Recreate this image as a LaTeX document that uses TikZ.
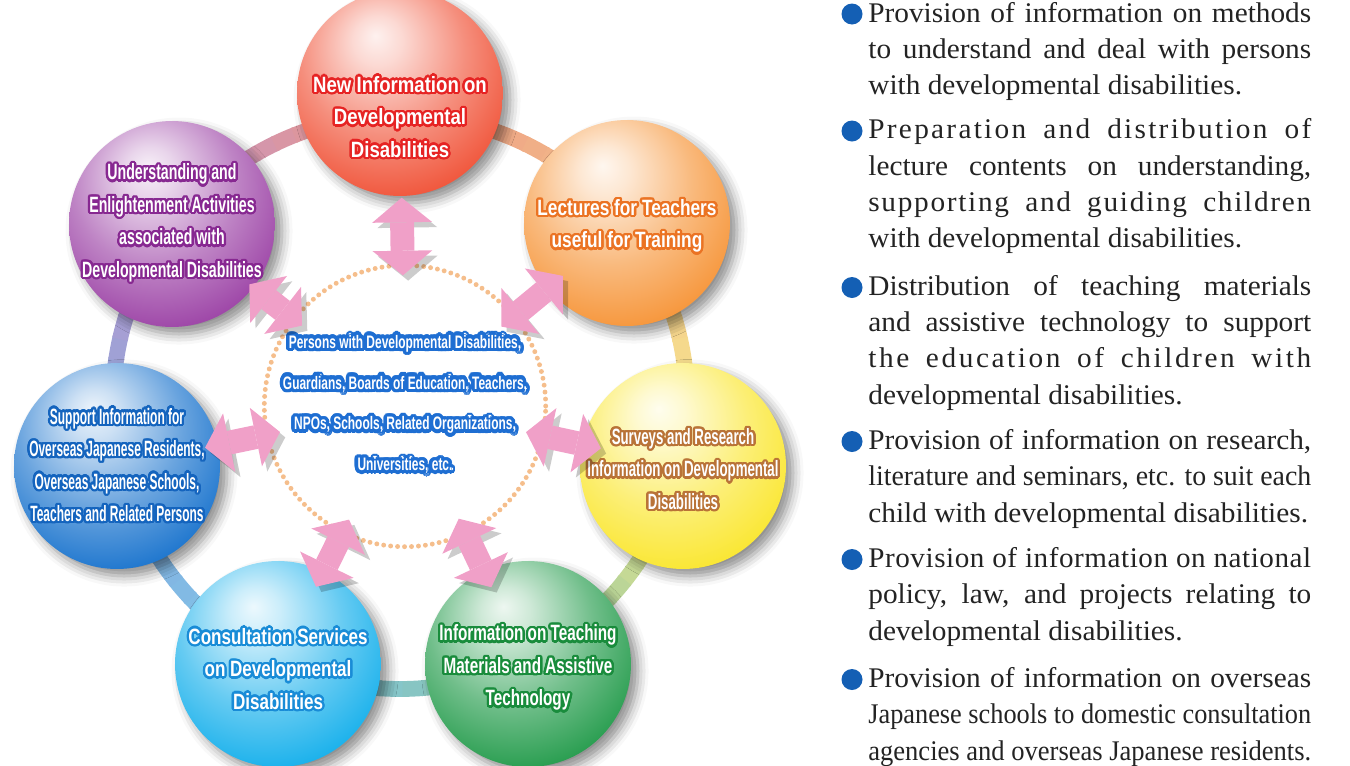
\documentclass[tikz,border=0pt]{standalone}
\usepackage{fontspec}
\usepackage{contour}
\usetikzlibrary{arrows.meta,shadows.blur}
\setmainfont{Liberation Serif}
\newfontfamily\ballfont{Liberation Sans}
\newfontfamily\listfont[FakeStretch=1.03]{Liberation Serif}

\definecolor{ddred}{RGB}{240, 82, 55}
\definecolor{ddorange}{RGB}{246, 148, 55}
\definecolor{ddyellow}{RGB}{250, 230, 45}
\definecolor{ddgreen}{RGB}{35, 155, 75}
\definecolor{ddcyan}{RGB}{20, 175, 235}
\definecolor{ddblue}{RGB}{25, 115, 205}
\definecolor{ddpurple}{RGB}{155, 65, 165}
\definecolor{halored}{RGB}{230, 35, 35}
\definecolor{haloorange}{RGB}{235, 115, 35}
\definecolor{haloyellow}{RGB}{185, 115, 55}
\definecolor{halogreen}{RGB}{25, 140, 60}
\definecolor{halocyan}{RGB}{25, 140, 215}
\definecolor{haloblue}{RGB}{20, 100, 190}
\definecolor{halopurple}{RGB}{135, 40, 145}
\definecolor{ringred}{RGB}{235, 150, 130}
\definecolor{ringorange}{RGB}{245, 195, 140}
\definecolor{ringyellow}{RGB}{245, 235, 140}
\definecolor{ringgreen}{RGB}{140, 195, 160}
\definecolor{ringcyan}{RGB}{130, 200, 235}
\definecolor{ringblue}{RGB}{130, 170, 220}
\definecolor{ringpurple}{RGB}{195, 150, 205}
\definecolor{hubglow}{RGB}{30, 110, 210}
\definecolor{dotpeach}{RGB}{245, 190, 140}
\definecolor{arrowpink}{RGB}{240, 160, 200}
\definecolor{bulletblue}{RGB}{20, 95, 180}
\definecolor{listgray}{RGB}{35, 35, 35}

\contourlength{1.3pt}
\contournumber{24}
\colorlet{ballbase}{ddred}
\colorlet{haloc}{halored}
\newcommand{\hl}[1]{\contour{haloc}{#1}}
\newcommand{\glow}[1]{{\contourlength{2pt}\contour{hubglow}{#1}}}
\newlength{\itemw}
\setlength{\itemw}{8.86cm}
% full-width line: optional letter spacing, squeezed if too long
\newcommand{\jl}[2][0]{%
  \setbox0\hbox{\addfontfeature{LetterSpace=#1}#2}%
  \ifdim\wd0>\itemw
    \pgfmathsetmacro{\jr}{\itemw/\wd0}\scalebox{\jr}[1]{\box0}%
  \else
    \makebox[\itemw][s]{\addfontfeature{LetterSpace=#1}#2}%
  \fi}

\pgfdeclareradialshading[ballbase]{glossy}{\pgfpoint{-6bp}{14bp}}{%
  color(0bp)=(ballbase!8!white); color(6bp)=(ballbase!22!white);
  color(20bp)=(ballbase!65!white); color(34bp)=(ballbase);
  color(66bp)=(ballbase!90!black)}

\tikzset{
  ball/.style={circle, minimum size=4.12cm, inner sep=0pt, outer sep=0pt,
    shading=glossy, /utils/exec={\colorlet{ballbase}{#1}},
    blur shadow={shadow xshift=4pt, shadow yshift=-4pt, shadow blur radius=6pt, shadow opacity=45}},
  cap/.style 2 args={text=white, align=center, inner sep=0pt,
    /utils/exec={\colorlet{haloc}{#1}},
    font={\fontsize{12.6}{18.5}\ballfont\bfseries\addfontfeature{FakeStretch=#2}}},
  hub/.style={circle, minimum size=5.48cm, inner sep=0pt, outer sep=0pt,
    draw=dotpeach, line width=2.8pt, dash pattern=on 0pt off 3.97pt, line cap=round,
    text=white, align=center,
    font={\fontsize{10.3}{23.2}\ballfont\bfseries\addfontfeature{FakeStretch=0.66}}},
  ringband/.style={line width=9pt},
  pinkarrow/.style={draw=arrowpink, line width=13.6pt,
    {Triangle[width=34pt,length=14pt,line width=0pt]}-{Triangle[width=34pt,length=14pt,line width=0pt]},
    preaction={draw=black, opacity=0.2, transform canvas={shift={(3pt,-3pt)}}}},
  bullet/.style={circle, fill=bulletblue, minimum size=0.42cm, inner sep=0pt},
  item/.style={anchor=base west, align=left, inner sep=0pt, text=listgray,
    font={\fontsize{16.2}{20.6}\listfont}}
}

\begin{document}
\begin{tikzpicture}[x=0.02cm, y=-0.02cm]
\useasboundingbox (0,0) rectangle (1350,765);
\coordinate (ringc) at (400,402);

% Coloured ring behind the balls
\foreach \sa/\ea/\ca/\cb in {-90/-38.3/ringred/ringorange, -38.3/12.7/ringorange/ringyellow,
    12.7/64/ringyellow/ringgreen, 64/115/ringgreen/ringcyan, 115/167.3/ringcyan/ringblue,
    167.3/218/ringblue/ringpurple, 218/270/ringpurple/ringred} {
  \foreach \k in {0,...,11} {
    \pgfmathsetmacro{\aa}{\sa+(\ea-\sa)*\k/12}
    \pgfmathsetmacro{\bb}{\sa+(\ea-\sa)*(\k+1.1)/12}
    \pgfmathtruncatemacro{\mix}{100-100*(\k+0.5)/12}
    \draw[ringband, draw=\ca!\mix!\cb] (ringc) ++(\aa:287) arc[start angle=\aa, end angle=\bb, radius=287];
  }
}

% Balls
\node[ball=ddred] (newinfo) at (400,93) {};
\node[ball=ddorange] (lectures) at (627,223) {};
\node[ball=ddyellow] (surveys) at (683,466) {};
\node[ball=ddgreen] (teaching) at (528,664) {};
\node[ball=ddcyan] (consult) at (278,664) {};
\node[ball=ddblue] (overseas) at (117,466) {};
\node[ball=ddpurple] (enlight) at (172,224) {};

% Ball captions
\node[cap={halored}{0.84}] (newinfo-cap) at ([yshift=-14.2pt]newinfo.center)
  {\hl{New Information on}\\ \hl{Developmental}\\ \hl{Disabilities}};
\node[cap={haloorange}{0.78}] (lectures-cap) at ([yshift=-2.3pt]lectures.center)
  {\hl{Lectures for Teachers}\\ \hl{useful for Training}};
\node[cap={haloyellow}{0.60}] (surveys-cap) at ([yshift=-2.3pt]surveys.center)
  {\hl{Surveys and Research}\\ \hl{Information on Developmental}\\ \hl{Disabilities}};
\node[cap={halogreen}{0.69}] (teaching-cap) at ([yshift=-2.8pt]teaching.center)
  {\hl{Information on Teaching}\\ \hl{Materials and Assistive}\\ \hl{Technology}};
\node[cap={halocyan}{0.77}] (consult-cap) at ([yshift=-3.4pt]consult.center)
  {\hl{Consultation Services}\\ \hl{on Developmental}\\ \hl{Disabilities}};
\node[cap={haloblue}{0.54}] (overseas-cap) at (overseas.center)
  {\hl{Support Information for}\\ \hl{Overseas Japanese Residents,}\\ \hl{Overseas Japanese Schools,}\\ \hl{Teachers and Related Persons}};
\node[cap={halopurple}{0.64}] (enlight-cap) at (enlight.center)
  {\hl{Understanding and}\\ \hl{Enlightenment Activities}\\ \hl{associated with}\\ \hl{Developmental Disabilities}};

% Centre
\node[hub] (hub) at (405,406)
  {\glow{Persons with Developmental Disabilities,}\\ \glow{Guardians, Boards of Education, Teachers,}\\
   \glow{NPOs, Schools, Related Organizations,}\\ \glow{Universities, etc.}};

% Double arrows
\draw[pinkarrow, shorten <=1pt, shorten >=-5.7pt] (newinfo) -- (hub);
\draw[pinkarrow, shorten <=-11.3pt, shorten >=-9pt] (lectures) -- (hub);
\draw[pinkarrow, shorten <=-10.8pt, shorten >=-9.6pt] (surveys) -- (hub);
\draw[pinkarrow, shorten <=-10.2pt, shorten >=-9pt] (teaching) -- (hub);
\draw[pinkarrow, shorten <=-9.6pt, shorten >=-8pt] (consult) -- (hub);
\draw[pinkarrow, shorten <=-7.4pt, shorten >=-7.4pt] (overseas) -- (hub);
\draw[pinkarrow, shorten <=-2.8pt, shorten >=-5.7pt] (enlight) -- (hub);

% Bullet list (nodes sit on the baseline of their last line)
\node[bullet] (b1) at (852,14) {};
\node[item] (item1) at (868,94.5)
  {\jl{Provision of information on methods}\\ \jl{to understand and deal with persons}\\ with developmental disabilities.};
\node[bullet] (b2) at (852,131) {};
\node[item] (item2) at (868,247.5)
  {\jl[8]{Preparation and distribution of}\\ \jl{lecture contents on understanding,}\\ \jl[6]{supporting and guiding children}\\ with developmental disabilities.};
\node[bullet] (b3) at (852,287.5) {};
\node[item] (item3) at (868,404)
  {\jl{Distribution of teaching materials}\\ \jl{and assistive technology to support}\\ \jl[9]{the education of children with}\\ developmental disabilities.};
\node[bullet] (b4) at (852,441.5) {};
\node[item] (item4) at (868,522)
  {\jl{Provision of information on research,}\\ \jl{literature and seminars, etc. to suit each}\\ child with developmental disabilities.};
\node[bullet] (b5) at (852,559.5) {};
\node[item] (item5) at (868,640)
  {\jl[2]{Provision of information on national}\\ \jl{policy, law, and projects relating to}\\ developmental disabilities.};
\node[bullet] (b6) at (852,679.5) {};
\node[item] (item6) at (868,760)
  {\jl{Provision of information on overseas}\\ \jl{Japanese schools to domestic consultation}\\ \jl{agencies and overseas Japanese residents.}};
\end{tikzpicture}
\end{document}
